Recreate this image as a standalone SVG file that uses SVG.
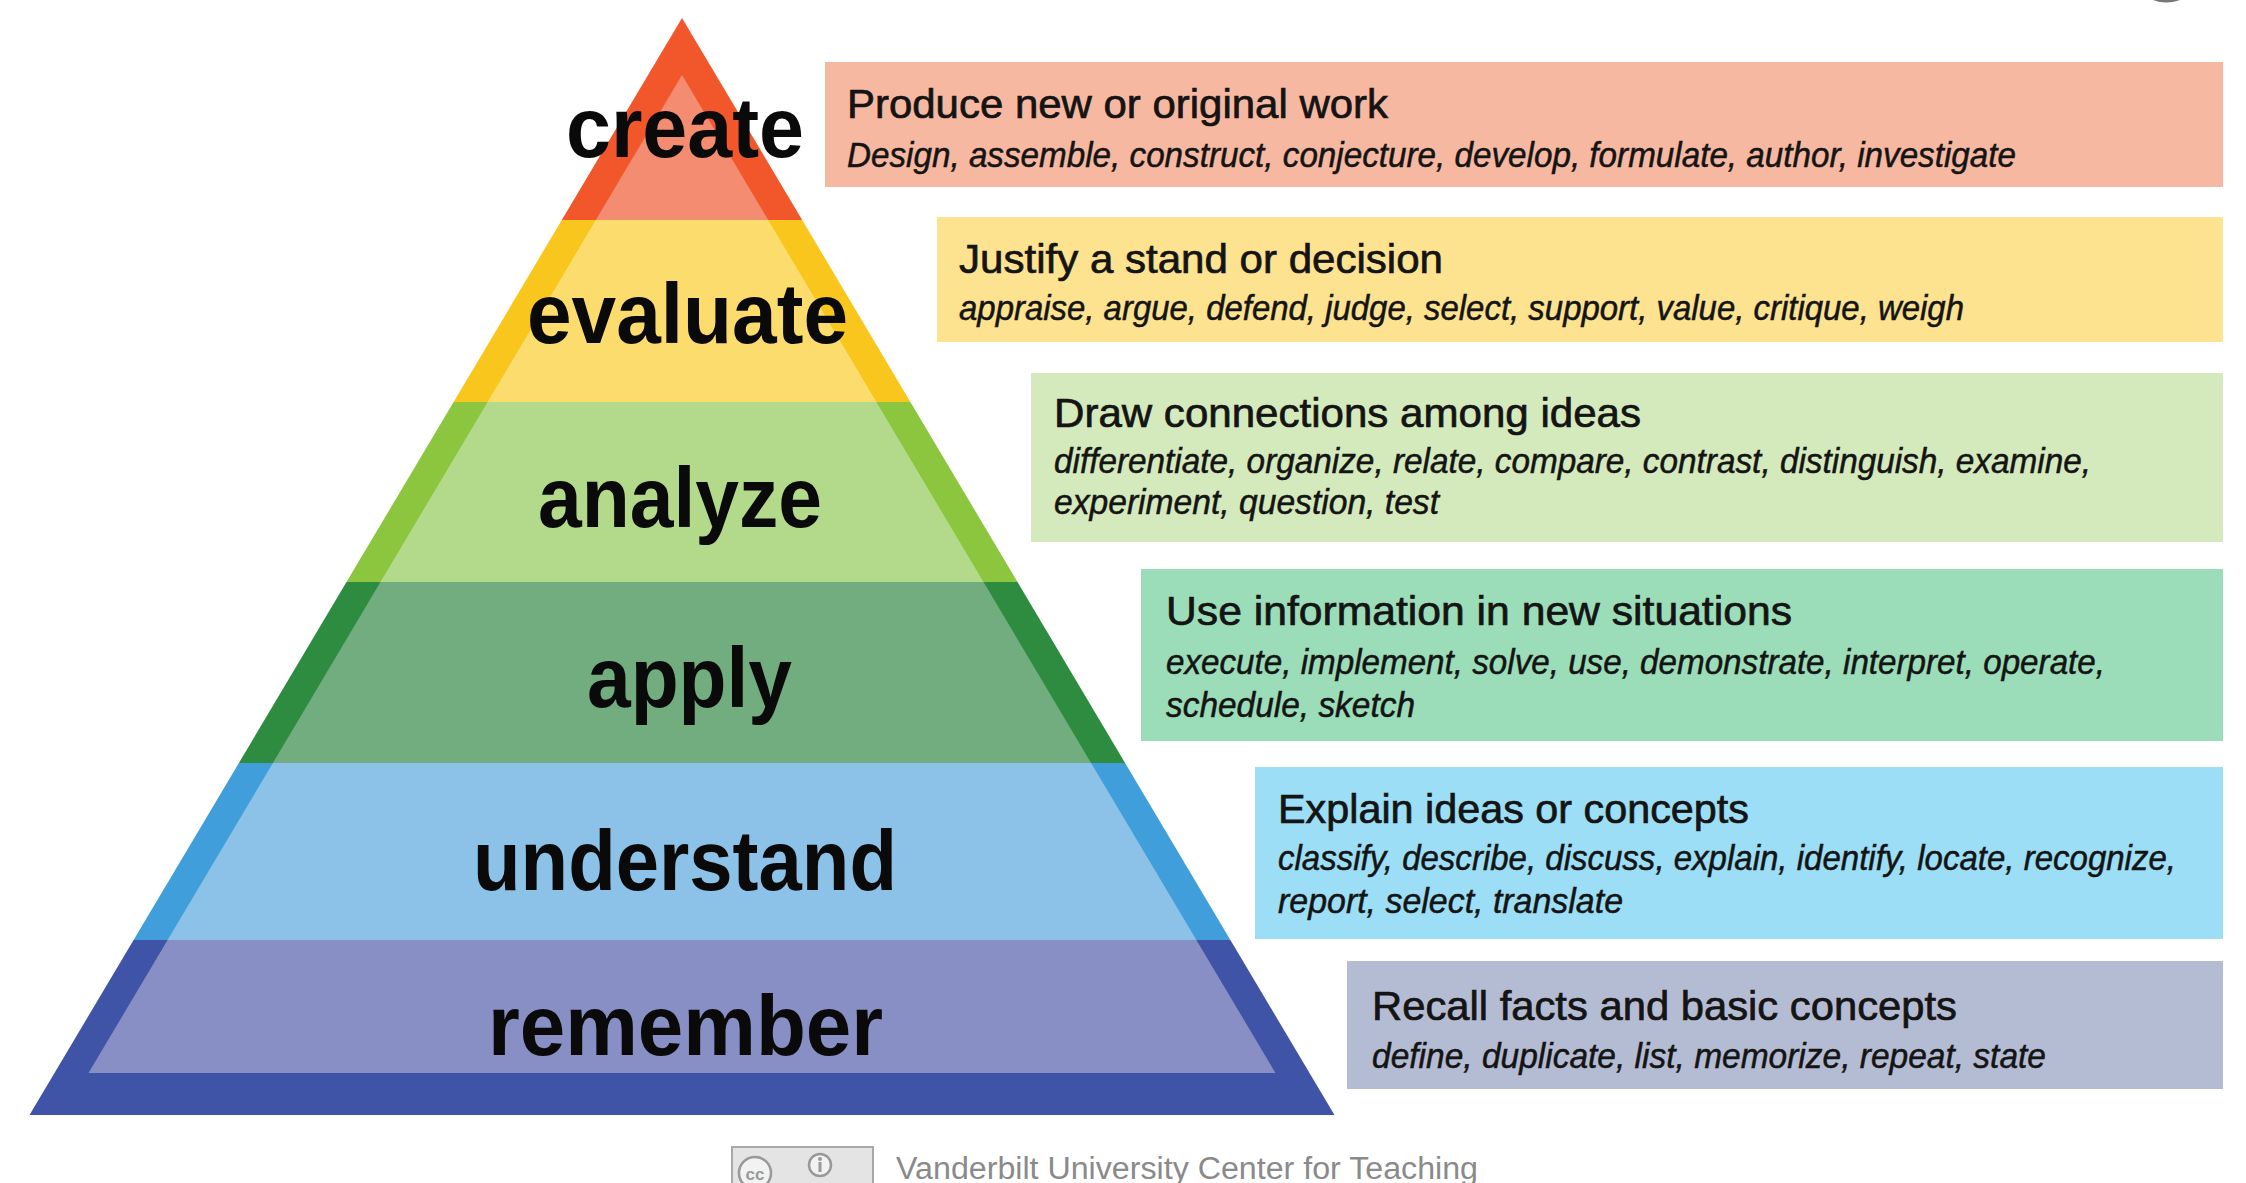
<svg xmlns="http://www.w3.org/2000/svg" width="2246" height="1183" viewBox="0 0 2246 1183">
<style>
.lvl{font-family:"Liberation Sans",Arial,sans-serif;font-weight:bold;font-size:86px;fill:#0a0a0a}
.ttl{font-family:"Liberation Sans Narrow","Liberation Sans",Arial,sans-serif;font-size:41px;fill:#141414;stroke:#141414;stroke-width:0.7}
.sub{font-family:"Liberation Sans Narrow","Liberation Sans",Arial,sans-serif;font-style:italic;font-size:35px;fill:#141414;stroke:#141414;stroke-width:0.5}
.foot{font-family:"Liberation Sans Narrow","Liberation Sans",Arial,sans-serif;font-size:31px;fill:#8a8a8a}
</style>
<rect x="0" y="0" width="2246" height="1183" fill="#ffffff"/>
<path d="M2153,0 Q2166,5 2180,0 Z" fill="#777"/>
<g id="connectors"/>
<g id="create">
<polygon points="682,18 802.2,220 561.8,220" fill="#F2562B"/>
<polygon points="682,75 768.2,220 595.8,220" fill="#F38C70"/>
<rect x="825" y="62" width="1398" height="125" fill="#F7B8A1"/>
<text class="ttl" x="847" y="118" textLength="541" lengthAdjust="spacingAndGlyphs">Produce new or original work</text>
<text class="sub" x="847" y="167" textLength="1169" lengthAdjust="spacingAndGlyphs">Design, assemble, construct, conjecture, develop, formulate, author, investigate</text>
<text class="lvl" x="566" y="157" textLength="238" lengthAdjust="spacingAndGlyphs">create</text>
</g>
<g id="evaluate">
<polygon points="561.8,220 802.2,220 910.4,402 453.6,402" fill="#F9C61E"/>
<polygon points="595.8,220 768.2,220 876.4,402 487.6,402" fill="#FCDC6D"/>
<rect x="937" y="217" width="1286" height="125" fill="#FDE290"/>
<text class="ttl" x="959" y="273" textLength="484" lengthAdjust="spacingAndGlyphs">Justify a stand or decision</text>
<text class="sub" x="959" y="320" textLength="1005" lengthAdjust="spacingAndGlyphs">appraise, argue, defend, judge, select, support, value, critique, weigh</text>
<text class="lvl" x="527" y="343" textLength="321" lengthAdjust="spacingAndGlyphs">evaluate</text>
</g>
<g id="analyze">
<polygon points="453.6,402 910.4,402 1017.5,582 346.5,582" fill="#8CC63F"/>
<polygon points="487.6,402 876.4,402 983.5,582 380.5,582" fill="#B3D98A"/>
<rect x="1031" y="373" width="1192" height="169" fill="#D5EABC"/>
<text class="ttl" x="1054" y="427" textLength="587" lengthAdjust="spacingAndGlyphs">Draw connections among ideas</text>
<text class="sub" x="1054" y="473" textLength="1037" lengthAdjust="spacingAndGlyphs">differentiate, organize, relate, compare, contrast, distinguish, examine,</text>
<text class="sub" x="1054" y="514" textLength="385" lengthAdjust="spacingAndGlyphs">experiment, question, test</text>
<text class="lvl" x="538" y="527" textLength="284" lengthAdjust="spacingAndGlyphs">analyze</text>
</g>
<g id="apply">
<polygon points="346.5,582 1017.5,582 1125.1,763 238.9,763" fill="#2D8C3F"/>
<polygon points="380.5,582 983.5,582 1091.1,763 272.9,763" fill="#72AD80"/>
<rect x="1141" y="569" width="1082" height="172" fill="#9CDDB9"/>
<text class="ttl" x="1166" y="625" textLength="626" lengthAdjust="spacingAndGlyphs">Use information in new situations</text>
<text class="sub" x="1166" y="674" textLength="939" lengthAdjust="spacingAndGlyphs">execute, implement, solve, use, demonstrate, interpret, operate,</text>
<text class="sub" x="1166" y="717" textLength="249" lengthAdjust="spacingAndGlyphs">schedule, sketch</text>
<text class="lvl" x="587" y="707" textLength="205" lengthAdjust="spacingAndGlyphs">apply</text>
</g>
<g id="understand">
<polygon points="238.9,763 1125.1,763 1230.4,940 133.6,940" fill="#409FDA"/>
<polygon points="272.9,763 1091.1,763 1196.4,940 167.6,940" fill="#8CC2E7"/>
<rect x="1255" y="767" width="968" height="172" fill="#9BDEF6"/>
<text class="ttl" x="1278" y="823" textLength="471" lengthAdjust="spacingAndGlyphs">Explain ideas or concepts</text>
<text class="sub" x="1278" y="870" textLength="898" lengthAdjust="spacingAndGlyphs">classify, describe, discuss, explain, identify, locate, recognize,</text>
<text class="sub" x="1278" y="913" textLength="345" lengthAdjust="spacingAndGlyphs">report, select, translate</text>
<text class="lvl" x="473" y="890" textLength="424" lengthAdjust="spacingAndGlyphs">understand</text>
</g>
<g id="remember">
<polygon points="133.6,940 1230.4,940 1334.5,1115 29.5,1115" fill="#3F53A7"/>
<polygon points="167.6,940 1196.4,940 1275.5,1073 88.5,1073" fill="#878FC5"/>
<rect x="1347" y="961" width="876" height="128" fill="#B4BCD3"/>
<text class="ttl" x="1372" y="1020" textLength="585" lengthAdjust="spacingAndGlyphs">Recall facts and basic concepts</text>
<text class="sub" x="1372" y="1068" textLength="674" lengthAdjust="spacingAndGlyphs">define, duplicate, list, memorize, repeat, state</text>
<text class="lvl" x="488" y="1055" textLength="395" lengthAdjust="spacingAndGlyphs">remember</text>
</g>
<g id="footer">
<rect x="732" y="1147" width="141" height="50" fill="#e4e4e4" stroke="#a8a8a8" stroke-width="2"/>
<circle cx="755" cy="1173" r="16" fill="#f2f2f2" stroke="#999" stroke-width="2.5"/>
<text x="755" y="1180" text-anchor="middle" font-family="Liberation Sans,Arial,sans-serif" font-weight="bold" font-size="17" fill="#999">cc</text>
<circle cx="820" cy="1165" r="11" fill="#f2f2f2" stroke="#999" stroke-width="2.5"/>
<circle cx="820" cy="1159" r="2" fill="#999"/>
<line x1="820" y1="1162" x2="820" y2="1172" stroke="#999" stroke-width="3"/>
<text class="foot" x="896" y="1179" textLength="582" lengthAdjust="spacingAndGlyphs">Vanderbilt University Center for Teaching</text>
</g>
</svg>
